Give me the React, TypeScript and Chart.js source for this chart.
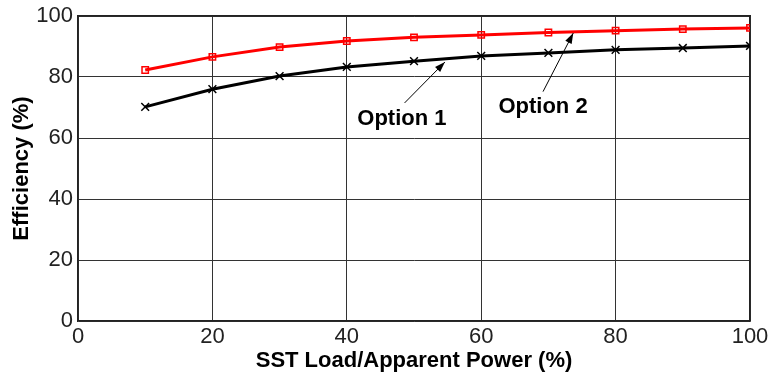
import React, { useEffect, useRef } from "react";
import { Chart, registerables } from "chart.js";

Chart.register(...registerables);

const loadPct = [10, 20, 30, 40, 50, 60, 70, 80, 90, 100];
const option2Eff = [82.3, 86.6, 89.8, 91.8, 93.0, 93.8, 94.6, 95.2, 95.7, 96.1];
const option1Eff = [70.2, 76.0, 80.3, 83.3, 85.2, 86.9, 87.9, 88.9, 89.5, 90.2];
const xTitle = "SST Load/Apparent Power (%)";
const yTitle = "Efficiency (%)";
const annotations = [
  { label: "Option 1", textX: 48.2, textY: 66.2, tailX: 48.6, tailY: 71.5, tipX: 54.6, tipY: 84.9 },
  { label: "Option 2", textX: 69.2, textY: 70.2, tailX: 69.2, tailY: 75.2, tipX: 73.7, tipY: 94.4 },
];

const annotationPlugin = {
  id: "arrowNotes",
  afterDatasetsDraw(chart: any) {
    const { ctx, scales } = chart;
    const xs = scales.x;
    const ys = scales.y;
    ctx.save();
    for (const a of annotations) {
      const tx = xs.getPixelForValue(a.tailX);
      const ty = ys.getPixelForValue(a.tailY);
      const hx = xs.getPixelForValue(a.tipX);
      const hy = ys.getPixelForValue(a.tipY);
      ctx.strokeStyle = "#000";
      ctx.fillStyle = "#000";
      ctx.lineWidth = 1;
      ctx.beginPath();
      ctx.moveTo(tx, ty);
      ctx.lineTo(hx, hy);
      ctx.stroke();
      const ang = Math.atan2(hy - ty, hx - tx);
      const len = 11;
      const wid = 0.33;
      ctx.beginPath();
      ctx.moveTo(hx, hy);
      ctx.lineTo(hx - len * Math.cos(ang - wid), hy - len * Math.sin(ang - wid));
      ctx.lineTo(hx - len * Math.cos(ang + wid), hy - len * Math.sin(ang + wid));
      ctx.closePath();
      ctx.fill();
      ctx.font = "bold 22px 'Liberation Sans', Arial, sans-serif";
      ctx.textAlign = "center";
      ctx.textBaseline = "middle";
      ctx.fillText(a.label, xs.getPixelForValue(a.textX), ys.getPixelForValue(a.textY));
    }
    ctx.restore();
  },
};

export default function App() {
  const canvasRef = useRef<HTMLCanvasElement | null>(null);

  useEffect(() => {
    document.body.style.margin = "0";
    const canvas = canvasRef.current;
    if (!canvas) return;
    const tickFont = { family: "'Liberation Sans', Arial, sans-serif", size: 22 };
    const titleFont = { family: "'Liberation Sans', Arial, sans-serif", size: 22, weight: "bold" as const };
    const chart = new Chart(canvas, {
      type: "line",
      data: {
        datasets: [
          {
            label: "Option 2",
            data: loadPct.map((x, i) => ({ x, y: option2Eff[i] })),
            borderColor: "#ff0000",
            backgroundColor: "rgba(255,255,255,0)",
            borderWidth: 3,
            pointStyle: "rect",
            pointRadius: 4.5,
            pointBorderWidth: 1.5,
            pointBorderColor: "#ff0000",
            pointBackgroundColor: "rgba(255,255,255,0)",
            tension: 0,
          },
          {
            label: "Option 1",
            data: loadPct.map((x, i) => ({ x, y: option1Eff[i] })),
            borderColor: "#000000",
            backgroundColor: "rgba(0,0,0,0)",
            borderWidth: 3,
            pointStyle: "crossRot",
            pointRadius: 5.5,
            pointBorderWidth: 1.5,
            pointBorderColor: "#000000",
            tension: 0,
          },
        ],
      },
      options: {
        animation: false,
        responsive: false,
        maintainAspectRatio: false,
        layout: { padding: { top: 16, right: 19, left: 0, bottom: 0 } },
        plugins: {
          legend: { display: false },
          tooltip: { enabled: false },
        },
        scales: {
          x: {
            type: "linear",
            min: 0,
            max: 100,
            ticks: { stepSize: 20, color: "#222", font: tickFont, padding: 3 },
            grid: { color: "#333", lineWidth: 1, drawTicks: false },
            border: { color: "#222", width: 1.5 },
            title: { display: true, text: xTitle, color: "#000", font: titleFont, padding: { top: 0, bottom: 4 } },
            afterFit: (scale: any) => {
              scale.height = 57;
              scale.paddingLeft = 0;
              scale.paddingRight = 0;
            },
          },
          y: {
            min: 0,
            max: 100,
            ticks: { stepSize: 20, color: "#222", font: tickFont, padding: 5 },
            grid: { color: "#333", lineWidth: 1, drawTicks: false },
            border: { color: "#222", width: 1.5 },
            title: { display: true, text: yTitle, color: "#000", font: titleFont, padding: { top: 9, bottom: 0 } },
            afterFit: (scale: any) => {
              scale.width = 78;
              scale.paddingTop = 0;
              scale.paddingBottom = 0;
            },
          },
          x2: {
            type: "linear",
            position: "top",
            min: 0,
            max: 100,
            display: true,
            ticks: { display: false },
            grid: { display: false, drawTicks: false },
            border: { color: "#222", width: 1.5 },
            afterFit: (scale: any) => {
              scale.height = 0;
            },
          },
          y2: {
            position: "right",
            min: 0,
            max: 100,
            display: true,
            ticks: { display: false },
            grid: { display: false, drawTicks: false },
            border: { color: "#222", width: 1.5 },
            afterFit: (scale: any) => {
              scale.width = 0;
            },
          },
        },
      },
      plugins: [annotationPlugin],
    });
    return () => chart.destroy();
  }, []);

  return (
    <div style={{ position: "absolute", left: 0, top: 0, width: 769, height: 378, background: "#fff" }}>
      <canvas ref={canvasRef} width={769} height={378} style={{ width: 769, height: 378 }} />
    </div>
  );
}
